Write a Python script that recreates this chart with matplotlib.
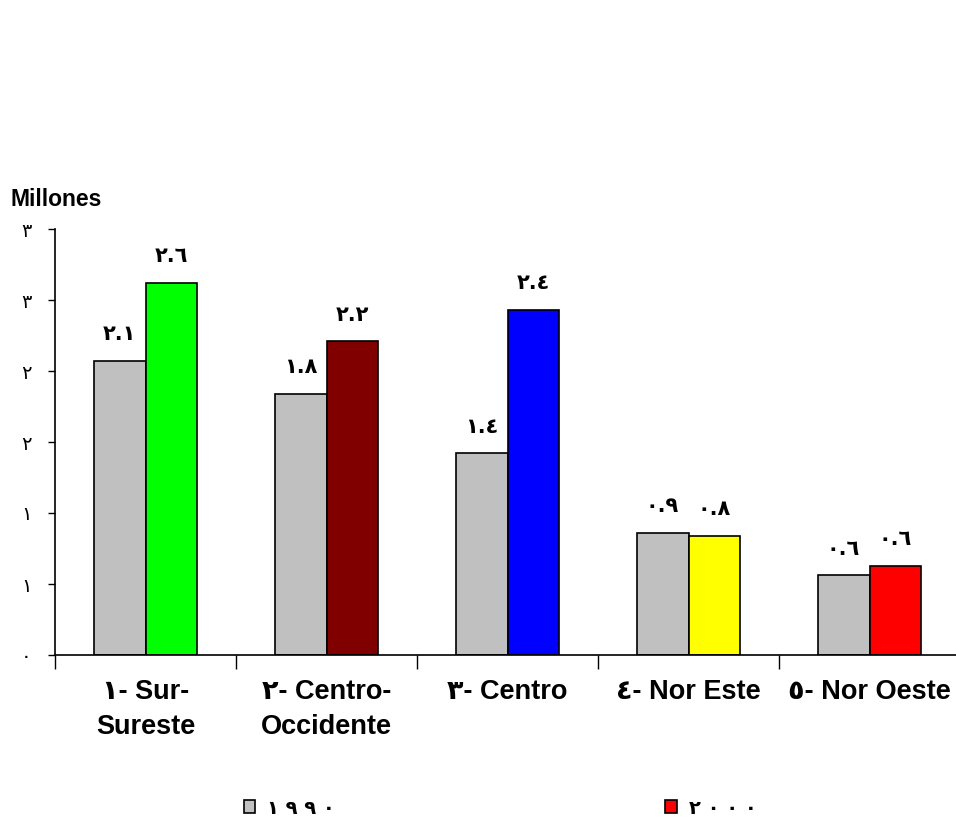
import matplotlib
matplotlib.use("Agg")
import matplotlib.pyplot as plt
from matplotlib.patches import Patch
import numpy as np

categories = ["١- Sur-\nSureste", "٢- Centro-\nOccidente", "٣- Centro", "٤- Nor Este", "٥- Nor Oeste"]
values_1990 = [2.07, 1.84, 1.42, 0.86, 0.56]
values_2000 = [2.62, 2.21, 2.43, 0.84, 0.63]
colors_2000 = ["#00FF00", "#800000", "#0000FF", "#FFFF00", "#FF0000"]
color_1990 = "#C0C0C0"
series_labels = ["١٩٩٠", "٢٠٠٠"]
y_ticks = [0, 0.5, 1.0, 1.5, 2.0, 2.5, 3.0]
y_tick_labels = ["٠", "١", "١", "٢", "٢", "٣", "٣"]
unit_label = "Millones"

AR = str.maketrans("0123456789", "٠١٢٣٤٥٦٧٨٩")

def ar_label(v):
    return f"{v:.1f}".translate(AR)

fig = plt.figure(figsize=(9.56, 8.21), dpi=100)
ax = fig.add_axes([55/956, 1-655/821, 905/956, (655-229)/821])

x = np.arange(len(categories))
w = 0.287
b1 = ax.bar(x - w/2, values_1990, width=w, color=color_1990, edgecolor="black", linewidth=1.2)
b2 = ax.bar(x + w/2, values_2000, width=w, color=colors_2000, edgecolor="black", linewidth=1.2)

for bars, vals in ((b1, values_1990), (b2, values_2000)):
    for r, v in zip(bars, vals):
        ax.annotate(ar_label(v), (r.get_x() + r.get_width()/2, v), xytext=(0, 12),
                    textcoords="offset points", ha="center", va="bottom",
                    fontsize=15, fontweight="bold", family=["DejaVu Sans"])

ax.set_xlim(-0.5, len(categories) - 0.5)
ax.set_ylim(0, 3.0)
ax.set_yticks(y_ticks)
ax.set_yticklabels(y_tick_labels, family=["DejaVu Sans"], fontsize=14)
ax.tick_params(axis="y", direction="out", length=5, width=1, pad=12)
ax.set_xticks(np.arange(len(categories) + 1) - 0.5, minor=False)
ax.set_xticklabels([])
ax.tick_params(axis="x", direction="out", length=10, width=1)
ax.set_xticks(x, minor=True)
ax.set_xticklabels(categories, minor=True, fontsize=19.5, fontweight="bold",
                   family=["Liberation Sans", "DejaVu Sans"], linespacing=1.45)
ax.tick_params(axis="x", which="minor", length=0, pad=17)
for sp in ("top", "right"):
    ax.spines[sp].set_visible(False)
for sp in ("left", "bottom"):
    ax.spines[sp].set_linewidth(1.2)

fig.text(10/956, 1-199/821, unit_label, fontsize=16.5, fontweight="bold",
         family=["Liberation Sans", "DejaVu Sans"], ha="left", va="center")

handles = [Patch(facecolor=color_1990, edgecolor="black", linewidth=1.2),
           Patch(facecolor=colors_2000[-1], edgecolor="black", linewidth=1.2)]
fig.legend(handles, [" ".join(s) for s in series_labels], loc="center",
           bbox_to_anchor=(500/956, 1-808/821),
           ncol=2, frameon=False, handlelength=0.6, handleheight=0.6, handletextpad=0.6,
           columnspacing=17, prop={"family": ["DejaVu Sans"], "weight": "bold", "size": 14})

fig.savefig("out.png", dpi=100)
